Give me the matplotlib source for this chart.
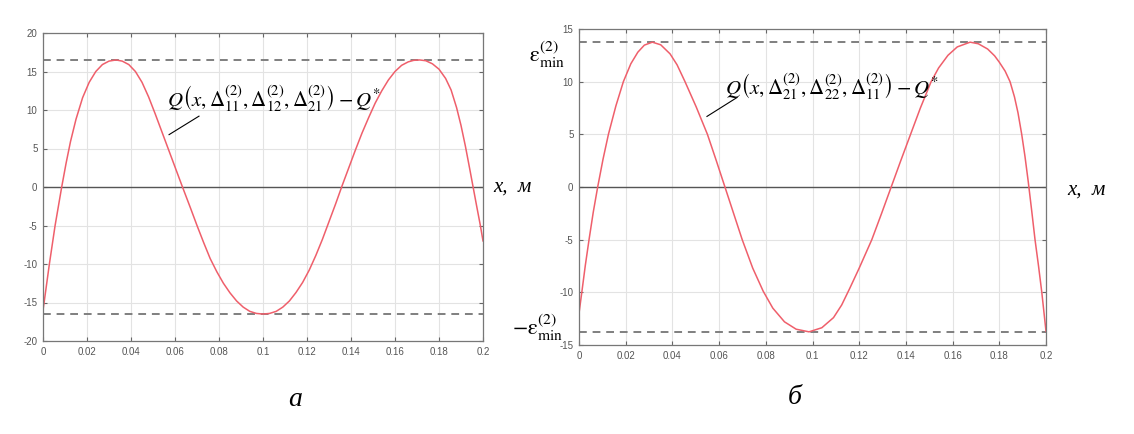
"""Two error curves Q(x, ...) - Q* with their +-epsilon bounds (panels a and b)."""
import matplotlib
matplotlib.use("Agg")
import matplotlib.pyplot as plt

plt.rcParams["mathtext.fontset"] = "stix"
plt.rcParams["axes.unicode_minus"] = False

# --- data ------------------------------------------------------------------
left_x = [0, 0.0005, 0.0017, 0.0029, 0.0042, 0.0055, 0.007, 0.0085, 0.0105,
          0.0125, 0.015, 0.018, 0.021, 0.024, 0.027, 0.030, 0.0332, 0.036,
          0.039, 0.042, 0.045, 0.048, 0.051, 0.054, 0.057, 0.060, 0.0634,
          0.067, 0.070, 0.073, 0.076, 0.079, 0.082, 0.085, 0.088, 0.091,
          0.094, 0.097, 0.1, 0.103, 0.106, 0.109, 0.112, 0.115, 0.118, 0.121,
          0.124, 0.127, 0.130, 0.133, 0.136, 0.139, 0.142, 0.145, 0.148,
          0.151, 0.154, 0.157, 0.160, 0.163, 0.166, 0.1685, 0.1712, 0.174,
          0.177, 0.180, 0.183, 0.1855, 0.188, 0.190, 0.192, 0.194, 0.1955,
          0.197, 0.1988, 0.2]
left_y = [-16.0, -15.0, -12.5, -10.0, -7.5, -5.0, -2.5, 0.0, 3.1, 5.9, 8.8,
          11.6, 13.6, 15.0, 15.9, 16.35, 16.5, 16.35, 15.9, 15.0, 13.6, 11.7,
          9.5, 7.2, 4.9, 2.6, 0.0, -2.7, -5.0, -7.2, -9.3, -11.0, -12.5,
          -13.75, -14.8, -15.6, -16.15, -16.42, -16.5, -16.42, -16.15, -15.6,
          -14.8, -13.7, -12.4, -10.8, -8.9, -6.8, -4.5, -2.2, 0.2, 2.5, 4.8,
          7.0, 9.0, 10.9, 12.5, 13.9, 15.0, 15.8, 16.25, 16.45, 16.5, 16.4,
          16.0, 15.3, 14.1, 12.6, 10.3, 8.0, 5.3, 2.3, 0.0, -2.3, -5.0, -7.0]

right_x = [0, 0.0012, 0.0027, 0.0043, 0.0061, 0.008, 0.0103, 0.0126, 0.0158,
           0.019, 0.0222, 0.0252, 0.028, 0.0314, 0.035, 0.039, 0.042, 0.0454,
           0.0502, 0.055, 0.0588, 0.0625, 0.0662, 0.0699, 0.0744, 0.0789,
           0.083, 0.088, 0.093, 0.0985, 0.104, 0.109, 0.1125, 0.116, 0.12,
           0.1254, 0.1296, 0.1337, 0.1378, 0.142, 0.1462, 0.1508, 0.154,
           0.158, 0.162, 0.1675, 0.171, 0.175, 0.178, 0.180, 0.1825, 0.1846,
           0.1865, 0.188, 0.1896, 0.191, 0.1924, 0.1939, 0.1953, 0.1968,
           0.1982, 0.2]
right_y = [-12.0, -10.0, -7.45, -5.0, -2.4, 0.0, 2.65, 5.0, 7.7, 10.0, 11.7,
           12.8, 13.47, 13.75, 13.5, 12.64, 11.6, 10.0, 7.6, 5.0, 2.5, 0.0,
           -2.5, -5.0, -7.7, -9.9, -11.5, -12.8, -13.5, -13.75, -13.36,
           -12.4, -11.2, -9.6, -7.7, -5.0, -2.5, 0.0, 2.5, 5.0, 7.5, 10.0,
           11.3, 12.5, 13.3, 13.75, 13.6, 13.1, 12.45, 11.85, 11.0, 10.0,
           8.55, 7.05, 5.0, 2.9, 0.5, -2.3, -5.0, -7.5, -10.0, -13.7]

left_eps = 16.5
right_eps = 13.75

x_ticks = [0, 0.02, 0.04, 0.06, 0.08, 0.1, 0.12, 0.14, 0.16, 0.18, 0.2]
x_labels = ["0", "0.02", "0.04", "0.06", "0.08", "0.1", "0.12", "0.14",
            "0.16", "0.18", "0.2"]
left_yticks = [-20, -15, -10, -5, 0, 5, 10, 15, 20]
right_yticks = [-15, -10, -5, 0, 5, 10, 15]

left_label = (r"$Q\left(x,\Delta_{11}^{(2)},\Delta_{12}^{(2)},"
              r"\Delta_{21}^{(2)}\right)-Q^{*}$")
right_label = (r"$Q\left(x,\Delta_{21}^{(2)},\Delta_{22}^{(2)},"
               r"\Delta_{11}^{(2)}\right)-Q^{*}$")

W, H = 1134, 434
RED = "#ef5f6b"
GREY_DASH = "#7f7f7f"


def style_axes(ax, yticks):
    ax.set_xlim(0, 0.2)
    ax.set_ylim(yticks[0], yticks[-1])
    ax.set_xticks(x_ticks)
    ax.set_xticklabels(x_labels)
    ax.set_yticks(yticks)
    ax.set_yticklabels([str(t) for t in yticks])
    ax.grid(True, color="#e3e3e3", lw=0.8)
    ax.set_axisbelow(True)
    ax.tick_params(direction="in", length=3, width=0.8, top=True, right=True,
                   labelsize=7, labelcolor="#555555", color="#666666", pad=4)
    for lbl in ax.get_xticklabels() + ax.get_yticklabels():
        lbl.set_family("Liberation Sans")
    for sp in ax.spines.values():
        sp.set_color("#777777")
        sp.set_linewidth(0.9)


def panel(rect, xs, ys, eps, yticks):
    ax = fig.add_axes(rect)
    style_axes(ax, yticks)
    ax.axhline(0, color="#555555", lw=1.0)
    ax.axhline(eps, color=GREY_DASH, lw=1.4, ls=(0, (4, 3)))
    ax.axhline(-eps, color=GREY_DASH, lw=1.4, ls=(0, (4, 3)))
    ax.plot(xs, ys, color=RED, lw=1.1, solid_joinstyle="round")
    return ax


def px(x, y):
    return x / W, 1 - y / H


fig = plt.figure(figsize=(W / 100, H / 100), dpi=100)

ax1 = panel([43 / W, 1 - 341 / H, 440 / W, 308 / H], left_x, left_y,
            left_eps, left_yticks)
ax2 = panel([579 / W, 1 - 345 / H, 467 / W, 316 / H], right_x, right_y,
            right_eps, right_yticks)

# curve labels with leader lines
ax1.text(0.0564, 11.4, left_label, fontsize=15, ha="left", va="center")
ax1.plot([0.0573, 0.0709], [6.8, 9.2], color="black", lw=0.8)
ax2.text(0.0625, 9.5, right_label, fontsize=15, ha="left", va="center")
ax2.plot([0.0548, 0.0677], [6.7, 8.5], color="black", lw=0.8)

# axis names
axis_font = dict(family="Liberation Serif", style="italic", fontsize=15,
                 va="center", ha="left")
fig.text(*px(493, 187), "x,  м", **axis_font)
fig.text(*px(1067, 190), "x,  м", **axis_font)

# epsilon bounds
fig.text(*px(529, 55), r"$\mathrm{ε}_{\min}^{(2)}$", fontsize=16,
         ha="left", va="center")
fig.text(*px(512, 328), r"$-\mathrm{ε}_{\min}^{(2)}$", fontsize=16,
         ha="left", va="center")

# panel captions
cap_font = dict(family="Liberation Serif", style="italic", fontsize=20,
                ha="center", va="center")
fig.text(*px(295, 400), "а", **cap_font)
fig.text(*px(795, 398), "б", **cap_font)

fig.savefig("out.png", dpi=100)
